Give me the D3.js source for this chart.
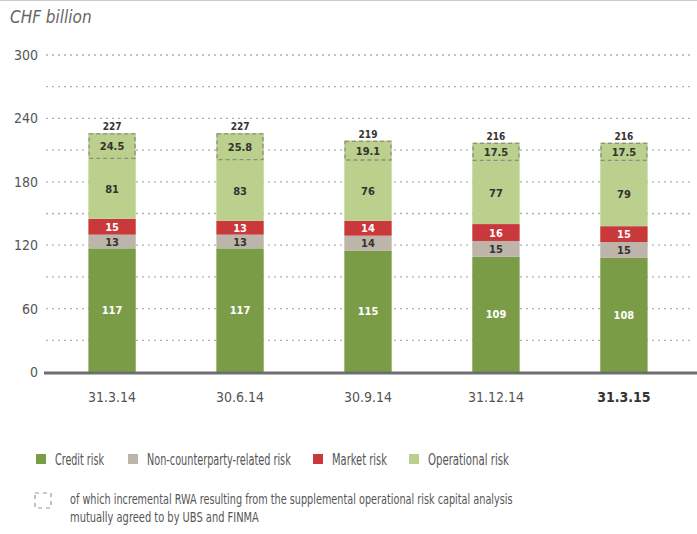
<!DOCTYPE html>
<html><head><meta charset="utf-8">
<script src="https://cdn.jsdelivr.net/npm/d3@7/dist/d3.min.js"></script>
<style>
body{margin:0;background:#fff;}
text{font-family:"DejaVu Sans Condensed","DejaVu Sans",sans-serif;font-stretch:condensed;}
</style></head><body>
<svg id="c" width="697" height="534"></svg>
<script>
const categories = ["31.3.14","30.6.14","30.9.14","31.12.14","31.3.15"];
const credit = [117,117,115,109,108];
const nonCounterparty = [13,13,14,15,15];
const market = [15,13,14,16,15];
const operational = [81,83,76,77,79];
const incremental = [24.5,25.8,19.1,17.5,17.5];
const totals = [227,227,219,216,216];
const yTicks = [0,60,120,180,240,300];
const gridTicks = [30,60,90,120,150,180,210,240,270,300];

const series = [
  {name:"Credit risk", values:credit, color:"#7b9c46", text:"#fff"},
  {name:"Non-counterparty-related risk", values:nonCounterparty, color:"#bdb4aa", text:"#333"},
  {name:"Market risk", values:market, color:"#c9383b", text:"#fff"},
  {name:"Operational risk", values:operational, color:"#bbd08d", text:"#333"}
];

const svg = d3.select("#c");
const y = d3.scaleLinear().domain([0,300]).range([372,55]);
const x = d3.scaleBand().domain(categories).range([50,686]).paddingInner(0.63).paddingOuter(0.3);

// place a text at (tx,ty) and squeeze it horizontally to a target width
function squeezed(str, tx, ty, w, size, attrs){
  const g = svg.append("g");
  const t = g.append("text").attr("x",0).attr("y",0).attr("font-size",size).text(str);
  Object.entries(attrs||{}).forEach(([k,v])=>t.attr(k,v));
  const cur = t.node().getComputedTextLength();
  const sx = Math.min(1, w/cur);
  g.attr("transform",`translate(${tx},${ty}) scale(${sx},1)`);
  return t;
}

svg.append("line").attr("x1",0).attr("x2",697).attr("y1",0.5).attr("y2",0.5).attr("stroke","#ccc");

squeezed("CHF billion",10,23,82,17,{"font-style":"italic",fill:"#666"});

svg.append("g").selectAll("line").data(gridTicks).join("line")
  .attr("x1",46).attr("x2",690).attr("y1",d=>y(d)).attr("y2",d=>y(d))
  .attr("stroke","#b0b0b0").attr("stroke-width",1.3).attr("stroke-dasharray","2,4");

svg.append("g").selectAll("text").data(yTicks).join("text")
  .attr("x",38).attr("y",d=>y(d)+5).attr("text-anchor","end").attr("font-size",14)
  .attr("fill","#555").text(d=>d);

const bw = x.bandwidth();
categories.forEach((c,i)=>{
  let base = 0;
  series.forEach((s,si)=>{
    const v = s.values[i];
    const y0 = y(base), y1 = y(base+v);
    svg.append("rect").attr("x",x(c)).attr("width",bw).attr("y",y1).attr("height",y0-y1).attr("fill",s.color);
    let labelCenter;
    if(si===3){
      const yb = y(base+v-incremental[i]);
      svg.append("rect").attr("x",x(c)+0.75).attr("width",bw-1.5).attr("y",y1+0.75).attr("height",yb-y1-1.5)
        .attr("fill","none").attr("stroke","#8a8f80").attr("stroke-width",1.3).attr("stroke-dasharray","4,3");
      svg.append("text").attr("x",x(c)+bw/2).attr("y",(y1+yb)/2+4).attr("text-anchor","middle")
        .attr("font-size",11).attr("font-weight","bold").attr("fill","#333").text(incremental[i]);
      labelCenter = (yb+y0)/2;
    } else labelCenter = (y0+y1)/2;
    svg.append("text").attr("x",x(c)+bw/2).attr("y",labelCenter+4).attr("text-anchor","middle")
      .attr("font-size",11).attr("font-weight","bold").attr("fill",s.text).text(v);
    base += v;
  });
  svg.append("text").attr("x",x(c)+bw/2).attr("y",y(base)-3).attr("text-anchor","middle")
    .attr("font-size",10).attr("font-weight","bold").attr("fill","#333").text(totals[i]);
});

svg.append("line").attr("x1",44).attr("x2",697).attr("y1",373).attr("y2",373).attr("stroke","#6e6e6e").attr("stroke-width",3);

svg.append("g").selectAll("text").data(categories).join("text")
  .attr("x",d=>x(d)+bw/2).attr("y",402).attr("text-anchor","middle").attr("font-size",14)
  .attr("font-weight",(d,i)=>i===categories.length-1?"bold":"normal")
  .attr("fill",(d,i)=>i===categories.length-1?"#333":"#555").text(d=>d);

const legX = [36,128,313,409];
const legW = [49,144,55,81];
series.forEach((s,i)=>{
  svg.append("rect").attr("x",legX[i]).attr("y",454).attr("width",10).attr("height",10).attr("fill",s.color);
  squeezed(s.name, legX[i]+19, 465, legW[i], 15, {fill:"#555"});
});
svg.append("rect").attr("x",35).attr("y",493).attr("width",16).attr("height",15).attr("fill","none")
  .attr("stroke","#999").attr("stroke-width",1.2).attr("stroke-dasharray","4,4");
squeezed("of which incremental RWA resulting from the supplemental operational risk capital analysis",70,504,443,14,{fill:"#555"});
squeezed("mutually agreed to by UBS and FINMA",70,522,189,14,{fill:"#555"});
</script></body></html>
